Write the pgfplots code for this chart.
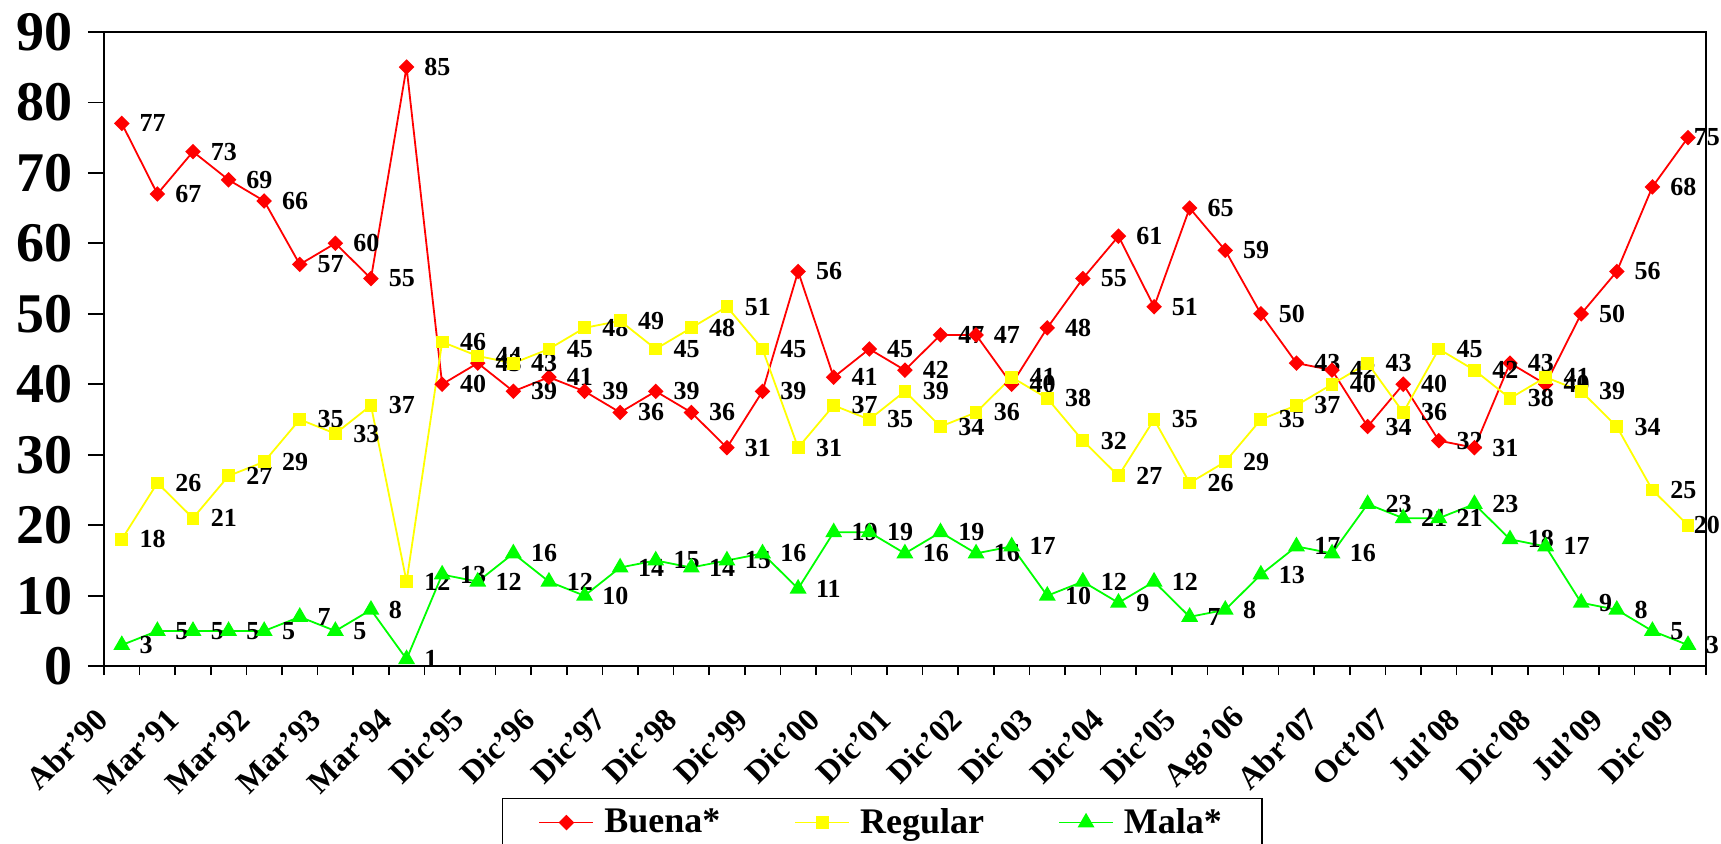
\documentclass[border=0pt]{standalone}
\usepackage{fontspec}
\setmainfont{Liberation Serif}
\usepackage{pgfplots}
\usepackage{pgfplotstable}
\pgfplotsset{compat=1.18}
\definecolor{cR}{RGB}{255,0,0}
\definecolor{cY}{RGB}{255,255,0}
\definecolor{cG}{RGB}{0,255,0}

\pgfplotstableread{
x b r m sb sr sm
0 77 18 3 8.5 8.5 8.5
1 67 26 5 8.5 8.5 8.5
2 73 21 5 8.5 8.5 8.5
3 69 27 5 8.5 8.5 8.5
4 66 29 5 8.5 8.5 8.5
5 57 35 7 8.5 8.5 8.5
6 60 33 5 8.5 8.5 8.5
7 55 37 8 8.5 8.5 8.5
8 85 12 1 8.5 8.5 8.5
9 40 46 13 8.5 8.5 8.5
10 43 44 12 8.5 8.5 8.5
11 39 43 16 8.5 8.5 8.5
12 41 45 12 8.5 8.5 8.5
13 39 48 10 8.5 8.5 8.5
14 36 49 14 8.5 8.5 8.5
15 39 45 15 8.5 8.5 8.5
16 36 48 14 8.5 8.5 8.5
17 31 51 15 8.5 8.5 8.5
18 39 45 16 8.5 8.5 8.5
19 56 31 11 8.5 8.5 8.5
20 41 37 19 8.5 8.5 8.5
21 45 35 19 8.5 8.5 8.5
22 42 39 16 8.5 8.5 8.5
23 47 34 19 8.5 8.5 8.5
24 47 36 16 8.5 8.5 8.5
25 40 41 17 8.5 8.5 8.5
26 48 38 10 8.5 8.5 8.5
27 55 32 12 8.5 8.5 8.5
28 61 27 9 8.5 8.5 8.5
29 51 35 12 8.5 8.5 8.5
30 65 26 7 8.5 8.5 8.5
31 59 29 8 8.5 8.5 8.5
32 50 35 13 8.5 8.5 8.5
33 43 37 17 8.5 8.5 8.5
34 42 40 16 8.5 8.5 8.5
35 34 43 23 8.5 8.5 8.5
36 40 36 21 8.5 8.5 8.5
37 32 45 21 8.5 8.5 8.5
38 31 42 23 8.5 8.5 8.5
39 43 38 18 8.5 8.5 8.5
40 40 41 17 8.5 8.5 8.5
41 50 39 9 8.5 8.5 8.5
42 56 34 8 8.5 8.5 8.5
43 68 25 5 8.5 8.5 8.5
44 75 20 3 2.5 2.5 8.5
}\datatab

\begin{document}
\begin{tikzpicture}
\begin{axis}[
  at={(0pt,0pt)}, anchor=south west,
  scale only axis, width=800.9pt, height=317.2pt,
  xmin=-0.5, xmax=44.5, ymin=0, ymax=90,
  axis line style={line width=0.8pt, black},
  ytick={0,10,...,90},
  xtick={-0.5,1.5,...,43.5},
  minor xtick={0.5,2.5,...,44.5},
  xticklabels={Abr'90,Mar'91,Mar'92,Mar'93,Mar'94,Dic'95,Dic'96,Dic'97,Dic'98,Dic'99,Dic'00,Dic'01,Dic'02,Dic'03,Dic'04,Dic'05,Ago'06,Abr'07,Oct'07,Jul'08,Dic'08,Jul'09,Dic'09},
  tick align=outside,
  xtick pos=bottom, ytick pos=left,
  major tick length=8pt,
  minor tick length=4.5pt,
  xtick style={/pgfplots/major tick length=4.5pt},
  tick style={line width=0.8pt, black},
  /pgf/number format/assume math mode=true,
  yticklabel style={font=\fontsize{28}{30}\selectfont\bfseries, xshift=-4pt},
  xticklabel style={font=\fontsize{16}{18}\selectfont\bfseries, xshift=-1pt, yshift=-16pt, rotate=45, anchor=east, inner sep=0pt},
  legend columns=3,
  legend style={at={(0.2483,-0.2074)}, anchor=north west, draw=black, line width=0.8pt,
    font=\fontsize{18}{20}\selectfont\bfseries, inner xsep=18pt, inner ysep=3pt,
    /tikz/every even column/.append style={column sep=35pt}},
  legend image code/.code={\draw[mark repeat=2,mark phase=2,#1] plot coordinates {(0pt,0pt) (13.5pt,0pt) (27pt,0pt)};
    \path (30pt,0pt);},
  clip=false,
]
\addplot[cR, line width=0.9pt, mark=square*, mark size=2.3pt, mark options={rotate=45, solid, fill=cR, draw=cR},
  nodes near coords, visualization depends on={\thisrow{sb}\as\dx},
  every node near coord/.append style={anchor=west, inner sep=0pt, xshift=\dx pt, text=black, font=\fontsize{13}{15}\selectfont\bfseries}]
  table[x=x, y=b]{\datatab};
\addlegendentry{Buena*}
\addplot[cY, line width=0.9pt, mark=square*, mark size=2.75pt, mark options={solid, fill=cY, draw=cY},
  nodes near coords, visualization depends on={\thisrow{sr}\as\dx},
  every node near coord/.append style={anchor=west, inner sep=0pt, xshift=\dx pt, text=black, font=\fontsize{13}{15}\selectfont\bfseries}]
  table[x=x, y=r]{\datatab};
\addlegendentry{Regular}
\addplot[cG, line width=0.9pt, mark=triangle*, mark size=4pt, mark options={solid, fill=cG, draw=cG},
  nodes near coords, visualization depends on={\thisrow{sm}\as\dx},
  every node near coord/.append style={anchor=west, inner sep=0pt, xshift=\dx pt, text=black, font=\fontsize{13}{15}\selectfont\bfseries}]
  table[x=x, y=m]{\datatab};
\addlegendentry{Mala*}
\end{axis}
\pgfresetboundingbox
\useasboundingbox (-52pt,-88.4pt) rectangle (808.5pt,333.1pt);
\end{tikzpicture}
\end{document}
